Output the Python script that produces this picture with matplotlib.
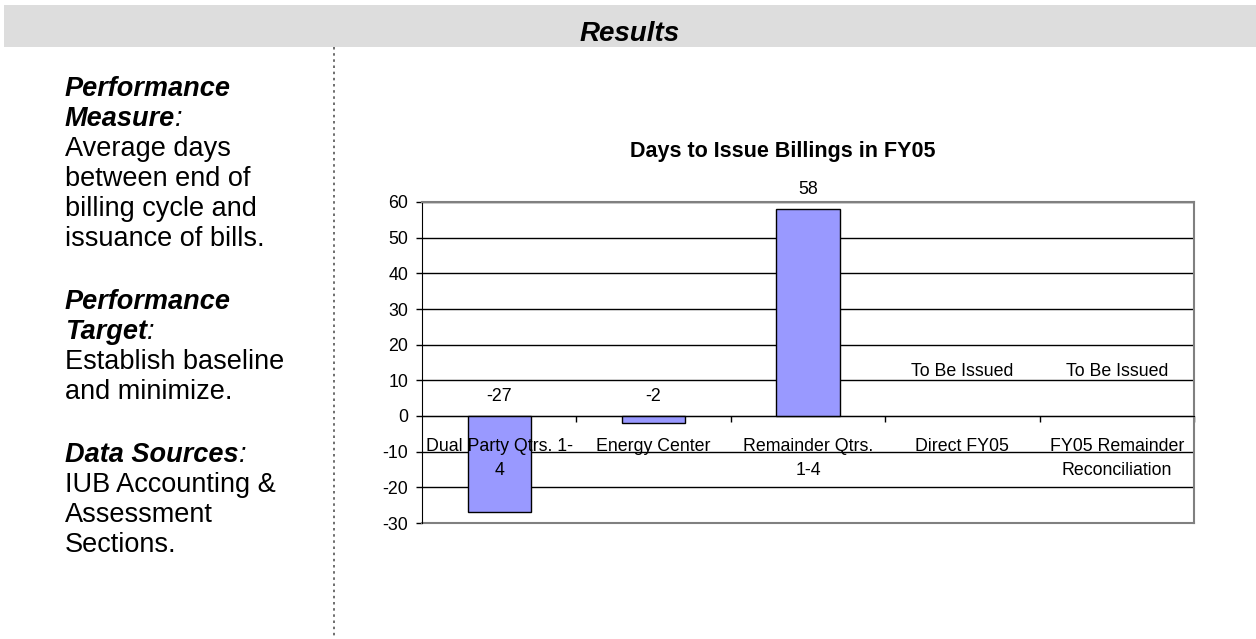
import matplotlib
matplotlib.use("Agg")
import matplotlib.pyplot as plt
import numpy as np
from matplotlib.patches import Rectangle

plt.rcParams["font.family"] = ["Liberation Sans", "DejaVu Sans"]
plt.rcParams["axes.unicode_minus"] = False

# ── data ──
categories = [
    "Dual Party Qtrs. 1-\n4",
    "Energy Center",
    "Remainder Qtrs.\n1-4",
    "Direct FY05",
    "FY05 Remainder\nReconciliation",
]
days = [-27, -2, 58, np.nan, np.nan]
pending_text = "To Be Issued"
y_ticks = [-30, -20, -10, 0, 10, 20, 30, 40, 50, 60]

chart_title = "Days to Issue Billings in FY05"
header_text = "Results"

# left column: (heading lines, body lines)
side_sections = [
    (["Performance", "Measure"], ["Average days", "between end of",
                                  "billing cycle and", "issuance of bills."]),
    (["Performance", "Target"], ["Establish baseline", "and minimize."]),
    (["Data Sources"], ["IUB Accounting &", "Assessment", "Sections."]),
]

W, H = 1256, 639
fig = plt.figure(figsize=(W / 100, H / 100), dpi=100)
fig.patch.set_facecolor("white")

# ── background layer in pixel coordinates ──
bg = fig.add_axes([0, 0, 1, 1])
bg.set_xlim(0, W)
bg.set_ylim(H, 0)
bg.axis("off")

bg.add_patch(Rectangle((4, 5), W - 4, 42, facecolor="#DDDDDD", edgecolor="none"))
bg.text(630, 34, header_text, fontsize=20, fontweight="bold", fontstyle="italic",
        ha="center", va="center")

bg.plot([334, 334], [47, H], color="#555555", linewidth=1.2,
        linestyle=(0, (1.5, 2.2)))

# left text column
x0 = 65
y = 96
line_step = 30
side_size = 19.5
for heading, body in side_sections:
    for j, line in enumerate(heading):
        t = bg.text(x0, y, line, fontsize=side_size, fontweight="bold",
                    fontstyle="italic", ha="left", va="baseline")
        if j == len(heading) - 1:
            bg.annotate(":", xy=(1, 0), xycoords=t, fontsize=side_size,
                        fontstyle="italic", ha="left", va="bottom")
        y += line_step
    for line in body:
        bg.text(x0, y, line, fontsize=side_size, ha="left", va="baseline")
        y += line_step
    y += 33

bg.text(783, 152, chart_title, fontsize=15.5, fontweight="bold",
        ha="center", va="center")

# ── chart ──
chart_size = 12.8
ax = fig.add_axes([422 / W, 1 - 523 / H, 772 / W, 321 / H])
x = np.arange(len(categories))

ax.bar(x, days, width=0.41, color="#9999FF", edgecolor="black",
       linewidth=1.0, zorder=3)

ax.set_xlim(-0.5, len(categories) - 0.5)
ax.set_ylim(min(y_ticks), max(y_ticks))
ax.set_yticks(y_ticks)
ax.set_yticklabels([str(v) for v in y_ticks], fontsize=chart_size)
ax.tick_params(axis="y", direction="out", length=4, width=1, pad=6, colors="black")

ax.yaxis.grid(True, color="black", linewidth=1.0)
ax.set_axisbelow(True)
ax.get_ygridlines()[0].set_visible(False)
# plot-area border along the bottom
ax.axhline(min(y_ticks), color="#808080", linewidth=1.5, clip_on=False, zorder=2)

# category axis sits on the zero line, ticks between categories
ax.spines["bottom"].set_position(("data", 0))
ax.spines["bottom"].set_color("black")
ax.spines["bottom"].set_zorder(4)
ax.set_xticks(x + 0.5)
ax.set_xticklabels([""] * len(categories))
ax.tick_params(axis="x", direction="out", length=4, width=1)

ax.spines["left"].set_color("black")
for side in ("top", "right"):
    ax.spines[side].set_color("#808080")
    ax.spines[side].set_linewidth(1.5)

for i, label in enumerate(categories):
    ax.annotate(label, xy=(i, 0), xytext=(0, -15.5), textcoords="offset points",
                ha="center", va="top", fontsize=chart_size, linespacing=1.6, zorder=5)

for i, v in enumerate(days):
    if np.isnan(v):
        ax.annotate(pending_text, xy=(i, 0), xytext=(0, 32), textcoords="offset points",
                    ha="center", va="center", fontsize=chart_size)
    else:
        ax.annotate(f"{v:g}", xy=(i, max(v, 0)), xytext=(0, 14), textcoords="offset points",
                    ha="center", va="center", fontsize=chart_size)

fig.savefig("out.png", dpi=100, facecolor="white")
